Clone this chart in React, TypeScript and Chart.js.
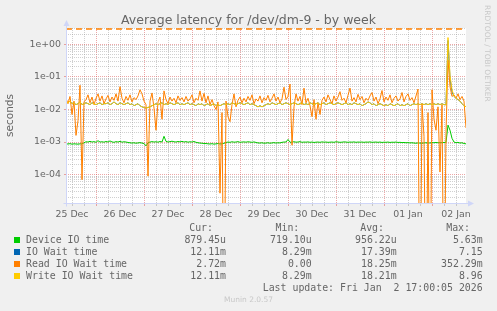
import React, { useEffect, useRef } from "react";
import { Chart, registerables } from "chart.js";

Chart.register(...registerables);

// time axis: hours since 25 Dec 00:00
const START_HOUR = 9; // 25 Dec 09:00
const END_HOUR = 209; // 02 Jan 17:00
const sampleHours = Array.from({ length: 201 }, (_, i) => START_HOUR + i);

const dayLabels = ["25 Dec", "26 Dec", "27 Dec", "28 Dec", "29 Dec", "30 Dec", "31 Dec", "01 Jan", "02 Jan"];
const yTickValues = [1, 0.1, 0.01, 0.001, 0.0001];
const yTickLabels = ["1e+00", "1e-01", "1e-02", "1e-03", "1e-04"];
const Y_MIN = 1.35e-5;
const Y_MAX = 3.14;

// values in milliseconds, one per hour
const deviceIoMs = [
  0.88, 0.87, 0.89, 0.86, 0.88, 0.87, 0.86, 0.88, 0.87, 0.95,
  1.02, 1.0, 1.05, 1.0, 1.03, 0.98, 1.1, 1.0, 1.02, 0.99,
  1.04, 1.0, 1.08, 1.01, 0.98, 1.03, 1.0, 1.05, 0.99, 1.02,
  1.0, 0.97, 0.95, 0.93, 0.95, 0.92, 0.94, 0.96, 0.93, 0.9,
  0.76, 0.95, 1.0, 1.03, 1.0, 1.02, 0.99, 1.04, 1.0, 1.5,
  1.05, 1.0, 1.03, 1.06, 1.02, 1.0, 1.04, 1.01, 1.05, 1.0,
  1.03, 0.99, 1.02, 1.0, 1.04, 0.98, 0.95, 0.93, 0.92, 0.9,
  0.9, 0.88, 0.87, 0.89, 0.86, 0.88, 0.9, 0.87, 0.88, 0.92,
  0.97, 1.0, 0.98, 1.02, 0.99, 1.0, 1.03, 0.98, 1.0, 1.01,
  0.99, 1.02, 1.0, 0.98, 1.01, 0.97, 0.94, 0.93, 0.95, 0.92,
  0.93, 0.95, 0.92, 0.94, 0.96, 0.93, 0.95, 0.94, 0.98, 1.0,
  1.0, 1.2, 0.98, 1.0, 1.02, 0.99, 1.0, 1.03, 0.98, 1.0,
  0.99, 1.01, 0.98, 1.0, 0.97, 0.99, 1.0, 0.98, 1.01, 0.99,
  1.0, 0.98, 0.99, 1.0, 0.98, 1.02, 1.0, 0.98, 0.99, 1.01,
  1.0, 0.98, 1.0, 0.99, 1.01, 0.98, 1.0, 0.99, 1.0, 0.98,
  1.0, 0.99, 1.01, 0.98, 0.99, 1.0, 0.98, 1.0, 0.97, 0.99,
  0.98, 1.0, 0.97, 0.99, 0.98, 1.0, 0.97, 0.98, 0.96, 0.97,
  0.95, 0.96, 0.94, 0.95, 0.93, 0.92, 0.94, 0.93, 0.92, 0.94,
  0.95, 0.93, 0.94, 0.96, 0.95, 0.97, 0.95, 0.96, 0.95, 0.97,
  0.98, 3.3, 2.3, 1.3, 1.0, 0.95, 0.98, 0.93, 0.95, 0.9, 0.88,
];

const ioWaitMs = [
  17, 16, 18, 15, 16, 14, 15, 17, 14, 15,
  16, 15, 14, 16, 15, 14, 15, 16, 14, 15,
  15, 16, 14, 15, 17, 15, 14, 16, 15, 14,
  15, 16, 14, 15, 13, 14, 15, 13, 12, 11.5,
  11, 11.5, 12, 13, 14, 15, 14, 15, 16, 14,
  15, 14, 16, 15, 14, 15, 16, 14, 15, 14,
  15, 16, 14, 15, 14, 13, 15, 14, 15, 13,
  14, 15, 13, 14, 15, 13, 14, 13, 14, 15,
  14, 15, 14, 16, 15, 14, 15, 16, 15, 14,
  15, 16, 14, 15, 14, 13, 12, 13, 12, 13,
  14, 15, 14, 16, 15, 14, 15, 16, 14, 15,
  16, 15, 14, 15, 16, 15, 14, 15, 16, 14,
  15, 14, 16, 15, 14, 15, 16, 14, 15, 16,
  14, 15, 16, 15, 14, 15, 16, 15, 14, 15,
  16, 14, 15, 14, 16, 15, 14, 15, 13, 14,
  15, 17, 16, 14, 15, 13, 14, 15, 14, 13,
  14, 13, 15, 14, 13, 14, 15, 13, 14, 13,
  14, 15, 13, 14, 15, 14, 15, 14, 15, 14,
  15, 14, 15, 14, 15, 14, 15, 14, 15, 14,
  14, 1300, 90, 35, 25, 22, 20, 18, 15, 13, 12.1,
];

const readIoWaitMs = [
  22, 15, 25, 7, 18, 1.6, 4.5, 55, 0.07, 17,
  20, 28, 16, 24, 14, 22, 30, 18, 26, 15,
  21, 27, 17, 24, 19, 30, 18, 50, 22, 16,
  25, 19, 28, 17, 23, 20, 26, 40, 30, 18,
  14, 0.09, 18, 32, 11, 2.3, 17, 24, 5, 37,
  20, 15, 24, 18, 22, 16, 26, 19, 23, 17,
  25, 18, 21, 28, 16, 22, 19, 37, 18, 31,
  16, 26, 14, 20, 13, 10, 17, 0.027, 8, 0,
  18, 6, 4.2, 14, 30, 12, 19, 24, 16, 22,
  17, 25, 19, 28, 15, 21, 18, 26, 16, 23,
  19, 27, 17, 22, 30, 18, 24, 16, 21, 48,
  20, 25, 60, 0.8, 12, 30, 18, 25, 14, 45,
  16, 22, 13, 6, 20, 5, 16, 7, 19, 24,
  17, 28, 20, 15, 26, 18, 24, 35, 19, 22,
  16, 27, 45, 18, 23, 17, 29, 20, 25, 16,
  22, 19, 26, 33, 18, 24, 15, 21, 38, 17,
  24, 19, 28, 16, 22, 26, 18, 21, 33, 17,
  25, 30, 19, 23, 16, 26, 42, 0, 15, 1.5,
  0, 8, 0, 40, 5, 2.3, 12, 0.12, 14, 0,
  2, 330, 50, 25, 28, 22, 30, 20, 25, 18, 2.7,
];

const writeIoWaitMs = [
  17, 16, 18, 15, 16, 14, 15, 17, 14, 15,
  16, 15, 14, 16, 15, 14, 15, 16, 14, 15,
  15, 16, 14, 15, 17, 15, 14, 16, 15, 14,
  15, 16, 14, 15, 13, 14, 15, 13, 12, 11.5,
  11, 11.5, 12, 13, 14, 15, 14, 15, 16, 14,
  15, 14, 16, 15, 14, 15, 16, 14, 15, 14,
  15, 16, 14, 15, 14, 13, 15, 14, 15, 13,
  14, 15, 13, 14, 15, 13, 14, 13, 14, 15,
  14, 15, 14, 16, 15, 14, 15, 16, 15, 14,
  15, 16, 14, 15, 14, 13, 12, 13, 12, 13,
  14, 15, 14, 16, 15, 14, 15, 16, 14, 15,
  16, 15, 14, 15, 16, 15, 14, 15, 16, 14,
  15, 14, 16, 15, 14, 15, 16, 14, 15, 16,
  14, 15, 16, 15, 14, 15, 16, 15, 14, 15,
  16, 14, 15, 14, 16, 15, 14, 15, 13, 14,
  15, 17, 16, 14, 15, 13, 14, 15, 14, 13,
  14, 13, 15, 14, 13, 14, 15, 13, 14, 13,
  14, 15, 13, 14, 15, 14, 15, 14, 15, 14,
  15, 14, 15, 14, 15, 14, 15, 14, 15, 14,
  14, 1600, 110, 40, 26, 22, 20, 18, 15, 13, 12.1,
];

const topRuleHours = [START_HOUR, END_HOUR];
const topRuleValues = [2.95, 2.95];

const seriesNames = ["Device IO time", "IO Wait time", "Read IO Wait time", "Write IO Wait time"];
const seriesColors = ["#00CC00", "#0066B3", "#FF8000", "#FFCC00"];
const curValues = ["879.45u", "12.11m", "2.72m", "12.11m"];
const minValues = ["719.10u", "8.29m", "0.00", "8.29m"];
const avgValues = ["956.22u", "17.39m", "18.25m", "18.21m"];
const maxValues = ["5.63m", "7.15", "352.29m", "8.96"];

const W = 497;
const H = 311;
const AREA = { left: 66, top: 28, right: 466, bottom: 203 };
const TEXT = "#666666";
const AXIS = "#CFD6F8";
const GRID_MINOR = "rgba(143,143,143,0.42)";
const GRID_MAJOR = "rgba(222,79,79,0.5)";

const toPoints = (vals: number[]) =>
  sampleHours.map((h, i) => ({ x: h, y: vals[i] > 0 ? vals[i] / 1000 : 1e-9 }));

const bgPlugin = {
  id: "muninBg",
  beforeDraw(chart: any) {
    const { ctx, chartArea } = chart;
    ctx.save();
    ctx.fillStyle = "#F0F0F0";
    ctx.fillRect(0, 0, chart.width, chart.height);
    ctx.fillStyle = "#FFFFFF";
    ctx.fillRect(chartArea.left, chartArea.top, chartArea.right - chartArea.left, chartArea.bottom - chartArea.top);
    ctx.restore();
  },
  afterDraw(chart: any) {
    const { ctx, chartArea } = chart;
    const l = Math.round(chartArea.left) + 0.5;
    const b = Math.round(chartArea.bottom) + 0.5;
    ctx.save();
    ctx.strokeStyle = AXIS;
    ctx.fillStyle = AXIS;
    ctx.lineWidth = 1;
    ctx.beginPath();
    ctx.moveTo(l, b + 3);
    ctx.lineTo(l, chartArea.top - 4);
    ctx.moveTo(l - 3, b);
    ctx.lineTo(chartArea.right + 4, b);
    ctx.stroke();
    ctx.beginPath();
    ctx.moveTo(l, chartArea.top - 8);
    ctx.lineTo(l - 3, chartArea.top - 2);
    ctx.lineTo(l + 3, chartArea.top - 2);
    ctx.closePath();
    ctx.fill();
    ctx.beginPath();
    ctx.moveTo(chartArea.right + 8, b);
    ctx.lineTo(chartArea.right + 2, b - 3);
    ctx.lineTo(chartArea.right + 2, b + 3);
    ctx.closePath();
    ctx.fill();
    ctx.restore();
  },
};

function isDecade(v: number) {
  const e = Math.log10(v);
  return Math.abs(e - Math.round(e)) < 1e-6;
}

export default function App() {
  const canvasRef = useRef<HTMLCanvasElement | null>(null);

  useEffect(() => {
    if (!canvasRef.current) return;
    const yGrid: number[] = [];
    for (let e = -5; e <= 0; e++) {
      for (let s = 1; s <= 9; s++) {
        const v = s * Math.pow(10, e);
        if (v > Y_MIN && v < Y_MAX) yGrid.push(v);
      }
    }
    const xGrid: number[] = [];
    for (let h = 12; h < END_HOUR; h += 6) xGrid.push(h);

    const tickFont = { family: "DejaVu Sans", size: 9.4 };
    const line = (label: string, vals: number[], color: string, order: number) => ({
      label,
      data: toPoints(vals),
      borderColor: color,
      backgroundColor: color,
      borderWidth: 1,
      pointRadius: 0,
      tension: 0,
      fill: false,
      order,
    });

    const chart = new Chart(canvasRef.current, {
      type: "line",
      data: {
        datasets: [
          line(seriesNames[0], deviceIoMs, seriesColors[0], 3),
          line(seriesNames[1], ioWaitMs, seriesColors[1], 2),
          line(seriesNames[2], readIoWaitMs, seriesColors[2], 1),
          line(seriesNames[3], writeIoWaitMs, seriesColors[3], 0),
          {
            label: "limit",
            data: topRuleHours.map((h, i) => ({ x: h, y: topRuleValues[i] })),
            borderColor: "#FF8000",
            borderWidth: 1.5,
            borderDash: [6, 4],
            pointRadius: 0,
            fill: false,
            order: 4,
          },
        ],
      },
      options: {
        responsive: false,
        animation: false,
        events: [],
        layout: { padding: { left: 0, top: AREA.top, right: W - AREA.right, bottom: H - AREA.bottom - 20 } },
        plugins: { legend: { display: false }, title: { display: false }, tooltip: { enabled: false } },
        scales: {
          x: {
            type: "linear",
            min: START_HOUR,
            max: END_HOUR,
            bounds: "data",
            afterBuildTicks: (scale: any) => {
              scale.ticks = xGrid.map((h) => ({ value: h }));
            },
            afterFit: (scale: any) => {
              scale.height = 20;
            },
            ticks: {
              autoSkip: false,
              maxRotation: 0,
              padding: 3,
              color: TEXT,
              font: tickFont,
              callback: (v: any) => {
                const h = Number(v);
                if ((h - 12) % 24 !== 0) return "";
                return dayLabels[(h - 12) / 24] ?? "";
              },
            },
            grid: {
              drawTicks: true,
              tickLength: 3,
              color: (ctx: any) => (ctx.tick && ctx.tick.value % 24 === 0 ? GRID_MAJOR : GRID_MINOR),
              tickColor: (ctx: any) => (ctx.tick && ctx.tick.value % 24 === 0 ? GRID_MAJOR : GRID_MINOR),
            },
            border: { display: false, dash: [1, 1] },
          },
          y: {
            type: "logarithmic",
            min: Y_MIN,
            max: Y_MAX,
            afterBuildTicks: (scale: any) => {
              scale.ticks = yGrid.map((v) => ({ value: v }));
            },
            afterFit: (scale: any) => {
              scale.width = AREA.left;
            },
            ticks: {
              autoSkip: false,
              padding: 3,
              color: TEXT,
              font: tickFont,
              callback: (v: any) => {
                const idx = yTickValues.findIndex((t) => Math.abs(Math.log10(t) - Math.log10(Number(v))) < 1e-6);
                return idx >= 0 ? yTickLabels[idx] : "";
              },
            },
            grid: {
              drawTicks: true,
              tickLength: 2,
              color: (ctx: any) => (ctx.tick && isDecade(ctx.tick.value) ? GRID_MAJOR : GRID_MINOR),
              tickColor: (ctx: any) => (ctx.tick && isDecade(ctx.tick.value) ? GRID_MAJOR : "rgba(0,0,0,0)"),
            },
            border: { display: false, dash: [1, 1] },
            title: {
              display: true,
              text: "seconds",
              color: TEXT,
              font: { family: "DejaVu Sans", size: 10.5 },
              padding: { top: 4, bottom: 0 },
            },
          },
        },
      },
      plugins: [bgPlugin],
    } as any);
    return () => chart.destroy();
  }, []);

  const mono: React.CSSProperties = {
    position: "absolute",
    fontFamily: "'DejaVu Sans Mono', monospace",
    fontSize: "9.9px",
    lineHeight: "12px",
    color: TEXT,
    whiteSpace: "pre",
  };
  const rowCenters = [239.7, 251.7, 263.7, 275.7];
  const valueRights = [W - 226, W - 311.7, W - 396.7, W - 482.7];
  const headerRights = [W - 213, W - 299.3, W - 384, W - 470];
  const headers = ["Cur:", "Min:", "Avg:", "Max:"];
  const cols = [curValues, minValues, avgValues, maxValues];

  return (
    <div style={{ position: "fixed", left: 0, top: 0, width: W, height: H, background: "#F0F0F0", overflow: "hidden" }}>
      <canvas ref={canvasRef} width={W} height={H} style={{ position: "absolute", left: 0, top: 0, width: W, height: H }} />
      <div
        style={{
          position: "absolute",
          left: 0,
          width: W,
          top: 12,
          textAlign: "center",
          fontFamily: "'DejaVu Sans', sans-serif",
          fontSize: "12.5px",
          lineHeight: "15px",
          color: TEXT,
          whiteSpace: "pre",
        }}
      >
        Average latency for /dev/dm-9 - by week
      </div>
      <div
        style={{
          position: "absolute",
          left: 482,
          top: 5,
          writingMode: "vertical-rl",
          fontFamily: "'DejaVu Sans', sans-serif",
          fontSize: "7.5px",
          lineHeight: "10px",
          color: "#C8C8C8",
          whiteSpace: "pre",
        }}
      >
        RRDTOOL / TOBI OETIKER
      </div>
      {headers.map((h, i) => (
        <div key={h} style={{ ...mono, right: headerRights[i], top: 227.7 - 6 }}>
          {h}
        </div>
      ))}
      {seriesNames.map((name, r) => (
        <React.Fragment key={name}>
          <div
            style={{
              position: "absolute",
              left: 14,
              top: rowCenters[r] - 3,
              width: 6,
              height: 6,
              background: seriesColors[r],
            }}
          />
          <div style={{ ...mono, left: 26, top: rowCenters[r] - 6 }}>{name}</div>
          {cols.map((col, c) => (
            <div key={c} style={{ ...mono, right: valueRights[c], top: rowCenters[r] - 6 }}>
              {col[r]}
            </div>
          ))}
        </React.Fragment>
      ))}
      <div style={{ ...mono, right: W - 482.7, top: 287.7 - 6 }}>{"Last update: Fri Jan  2 17:00:05 2026"}</div>
      <div
        style={{
          position: "absolute",
          left: 0,
          width: W,
          top: 295,
          textAlign: "center",
          fontFamily: "'DejaVu Sans', sans-serif",
          fontSize: "7.5px",
          lineHeight: "10px",
          color: "#C8C8C8",
        }}
      >
        Munin 2.0.57
      </div>
    </div>
  );
}
